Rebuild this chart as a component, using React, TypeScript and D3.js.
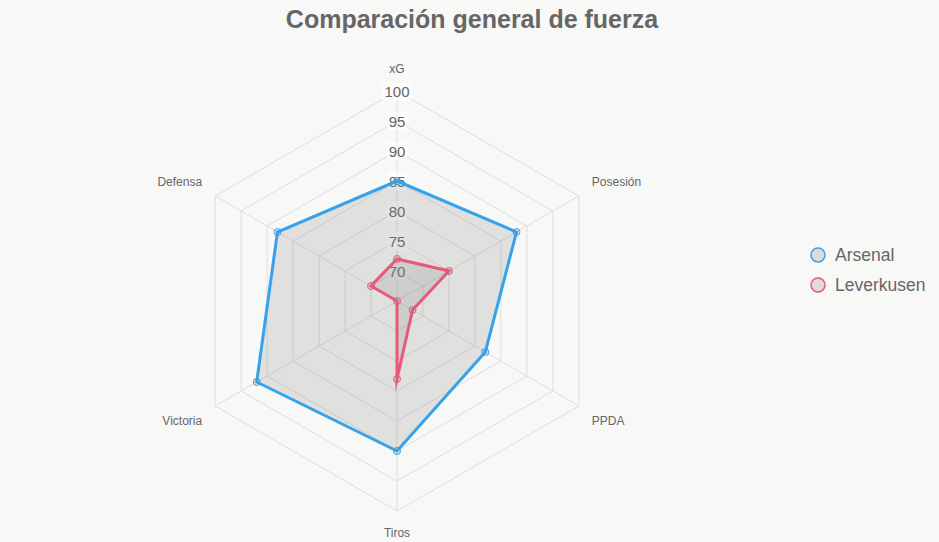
import React from "react";
import * as d3 from "d3";

const labels = ["xG", "Posesión", "PPDA", "Tiros", "Victoria", "Defensa"];
const arsenal = [85, 88, 82, 90, 92, 88];
const leverkusen = [72, 75, 68, 78, 65, 70];
const ticks = [70, 75, 80, 85, 90, 95, 100];
const seriesNames = ["Arsenal", "Leverkusen"];
const seriesColors = ["#36a2eb", "#e8587a"];

const W = 939;
const H = 542;
const cx = 397;
const cy = 301;
const R = 210;
const font = "'Liberation Sans', Arial, Helvetica, sans-serif";
const fillGrey = "rgba(128,128,128,0.2)";

const App = () => {
  const r = d3.scaleLinear().domain([65, 100]).range([0, R]);
  const angle = d3
    .scaleLinear()
    .domain([0, labels.length])
    .range([0, 2 * Math.PI]);

  const pt = (i: number, rad: number) => [
    cx + rad * Math.sin(angle(i)),
    cy - rad * Math.cos(angle(i)),
  ];

  const ring = (v: number) =>
    labels.map((_, i) => pt(i, r(v)).join(",")).join(" ");

  const radial = d3
    .lineRadial<number>()
    .angle((_, i) => angle(i))
    .radius((d) => r(d))
    .curve(d3.curveLinearClosed);

  const series = [arsenal, leverkusen];

  return (
    <div style={{ position: "fixed", left: 0, top: 0 }}>
      <svg width={W} height={H} style={{ display: "block", background: "#f8f8f7" }}>
        <text
          x={472}
          y={19}
          textAnchor="middle"
          dominantBaseline="central"
          fontFamily={font}
          fontSize={25}
          fontWeight="bold"
          fill="#666"
        >
          Comparación general de fuerza
        </text>

        {/* grid */}
        <g fill="none" stroke="#dddddd" strokeWidth={1}>
          {ticks.map((t) => (
            <polygon key={t} points={ring(t)} />
          ))}
          {labels.map((_, i) => {
            const [x, y] = pt(i, R);
            return <line key={i} x1={cx} y1={cy} x2={x} y2={y} />;
          })}
        </g>

        {/* point labels */}
        <g fontFamily={font} fontSize={12} fill="#666">
          {labels.map((l, i) => {
            const a = angle(i);
            const s = Math.sin(a);
            const c = Math.cos(a);
            const side = Math.abs(s) > 0.1;
            const pad = side ? 15 : 22;
            const [x, y] = pt(i, R + pad);
            const dy = side ? (c > 0 ? -7 : 7) : 0;
            return (
              <text
                key={l}
                x={x}
                y={y + dy}
                textAnchor={!side ? "middle" : s > 0 ? "start" : "end"}
                dominantBaseline="central"
              >
                {l}
              </text>
            );
          })}
        </g>

        {/* tick labels */}
        <g fontFamily={font} fontSize={15} fill="#666">
          {ticks.map((t) => {
            const y = cy - r(t);
            const w = String(t).length * 8.34;
            return (
              <g key={t}>
                <rect
                  x={cx - w / 2 - 2}
                  y={y - 9.5}
                  width={w + 4}
                  height={19}
                  fill="rgba(255,255,255,0.6)"
                />
                <text x={cx} y={y} textAnchor="middle" dominantBaseline="central">
                  {t}
                </text>
              </g>
            );
          })}
        </g>

        {/* datasets */}
        {series.map((vals, si) => (
          <g key={si} transform={`translate(${cx},${cy})`}>
            <path
              d={radial(vals) ?? ""}
              fill={fillGrey}
              stroke={seriesColors[si]}
              strokeWidth={3}
              strokeLinejoin="miter"
              strokeMiterlimit={10}
            />
            {vals.map((v, i) => {
              const a = angle(i);
              return (
                <circle
                  key={i}
                  cx={r(v) * Math.sin(a)}
                  cy={-r(v) * Math.cos(a)}
                  r={3.5}
                  fill={fillGrey}
                  stroke={seriesColors[si]}
                  strokeWidth={1}
                />
              );
            })}
          </g>
        ))}

        {/* legend */}
        <g fontFamily={font} fontSize={17.5} fill="#666">
          {seriesNames.map((n, i) => (
            <g key={n} transform={`translate(818,${255 + i * 30})`}>
              <circle r={7} fill="#dcdcdc" stroke={seriesColors[i]} strokeWidth={1.5} />
              <text x={17} y={0} dominantBaseline="central">
                {n}
              </text>
            </g>
          ))}
        </g>
      </svg>
    </div>
  );
};

export default App;
